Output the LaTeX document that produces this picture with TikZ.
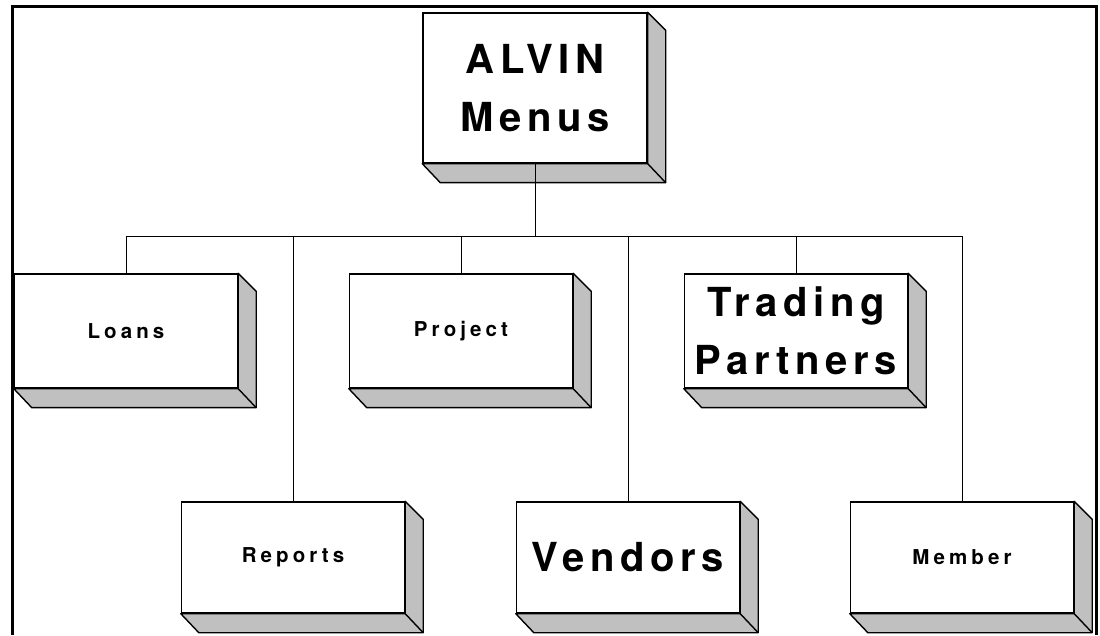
\documentclass[tikz,border=0pt]{standalone}
\usepackage{fontspec}
\setmainfont{Liberation Sans}
\newfontfamily\bigfont{texgyreheros-bold.otf}[LetterSpace=14]
\newfontfamily\smallfont{texgyreheros-bold.otf}[LetterSpace=20]
\definecolor{boxgray}{RGB}{192,192,192}
\tikzset{
	menubox/.style={draw, fill=white, line width=1.4pt, minimum width=223pt, minimum height=114pt, inner sep=0pt, align=center},
	bigtext/.style={font=\bigfont\fontsize{40}{58}\selectfont},
	smalltext/.style={font=\smallfont\fontsize{20.5}{24}\selectfont},
	depth/.style={draw, fill=boxgray, line width=1.4pt, line join=round},
	link/.style={line width=1pt}
}
\begin{document}
\begin{tikzpicture}[x=1pt,y=1pt]
		\useasboundingbox (0,0) rectangle (1100,635);
		\draw[line width=3pt] (12,0) -- (12,628) -- (1096,628) -- (1096,0);
		\node[menubox, bigtext, minimum width=224pt, minimum height=150pt] (alvin) at (535,547) {ALVIN\\Menus};
		\node[menubox, smalltext] (loans) at (126,304) {Loans};
		\node[menubox, smalltext] (project) at (461,304) {Project};
		\node[menubox, bigtext] (trading) at (796,304) {Trading\\Partners};
		\node[menubox, smalltext, minimum height=111pt] (reports) at (293,77.5) {Reports};
		\node[menubox, bigtext, minimum height=111pt] (vendors) at (628,77.5) {Vendors};
		\node[menubox, smalltext, minimum height=111pt] (member) at (962,77.5) {Member};
		\foreach \n in {alvin,loans,project,trading,reports,vendors,member}{
			\draw[depth] (\n.north east) -- ++(18,-18) -- ([shift={(18,-19)}]\n.south east) -- ([shift={(18,-19)}]\n.south west) -- (\n.south west) -- (\n.south east) -- cycle;
			\draw[line width=1.4pt] (\n.south east) -- ++(18,-19);
		}
		\coordinate (bus) at (535,398);
		\draw[link] (alvin.south) -- (bus);
		\foreach \n in {loans,reports,project,vendors,trading,member}
			\draw[link] (bus) -| (\n.north);
	\end{tikzpicture}
\end{document}
